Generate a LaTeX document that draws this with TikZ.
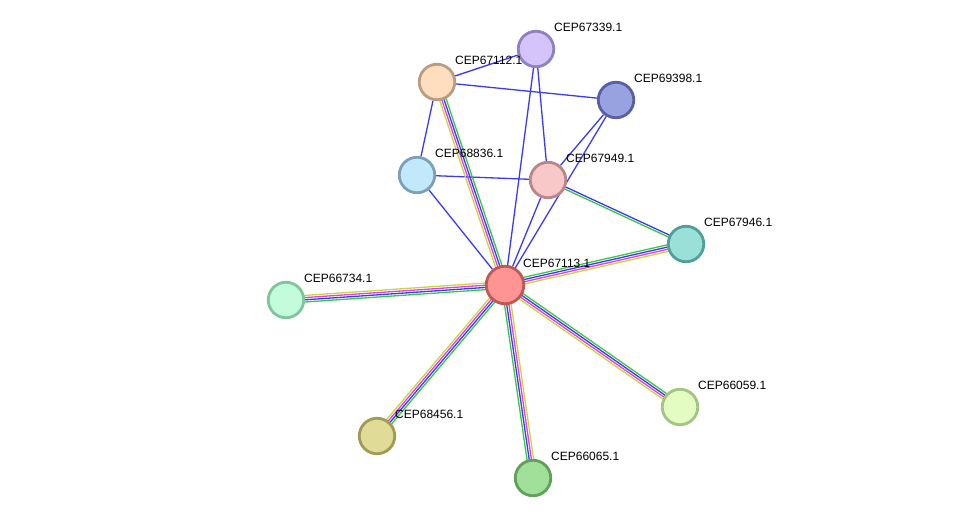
\documentclass[tikz,border=0pt]{standalone}
\usepackage{fontspec}
\setmainfont{Liberation Sans}
\usetikzlibrary{calc,backgrounds}
\definecolor{eblue}{HTML}{3A3AF2}
\definecolor{egreen}{HTML}{3CC83C}
\definecolor{emag}{HTML}{E040E0}
\definecolor{eyel}{HTML}{C4D83C}
\definecolor{f339}{HTML}{D4C4FA}\definecolor{d339}{HTML}{9080C4}
\definecolor{f112}{HTML}{FFDEC0}\definecolor{d112}{HTML}{BC9C80}
\definecolor{f398}{HTML}{98A2E0}\definecolor{d398}{HTML}{5660A2}
\definecolor{f836}{HTML}{C2E8FC}\definecolor{d836}{HTML}{7AA0BC}
\definecolor{f949}{HTML}{F8C8C8}\definecolor{d949}{HTML}{B88888}
\definecolor{f946}{HTML}{9AE0D8}\definecolor{d946}{HTML}{50A098}
\definecolor{f113}{HTML}{FF9494}\definecolor{d113}{HTML}{C05858}
\definecolor{f734}{HTML}{C2FCDA}\definecolor{d734}{HTML}{80C4A0}
\definecolor{f456}{HTML}{E0DC98}\definecolor{d456}{HTML}{A09C58}
\definecolor{f065}{HTML}{A0E098}\definecolor{d065}{HTML}{60A058}
\definecolor{f059}{HTML}{E2FCC2}\definecolor{d059}{HTML}{A4C484}
\tikzset{
  ew/.style={line width=1.3pt},
  prot/.style={circle, minimum size=35.5pt, inner sep=0pt, line width=2.8pt},
  lbl/.style={anchor=west, inner sep=0pt, font=\fontsize{12pt}{14pt}\selectfont, text=black}
}
\newcommand{\oline}[4]{% a b colour offset
  \draw[ew,#3] ($(#1)!#4!90:(#2)$) -- ($(#2)!#4!-90:(#1)$);}
\newcommand{\quadline}[6]{%
  \oline{#1}{#2}{#3}{3.3pt}\oline{#1}{#2}{#4}{1.1pt}\oline{#1}{#2}{#5}{-1.1pt}\oline{#1}{#2}{#6}{-3.3pt}}
\begin{document}
\begin{tikzpicture}[x=1pt,y=-1pt]
\useasboundingbox (0,0) rectangle (976,524);
% nodes
\node[prot, fill=f339, draw=d339] (n339) at (536,49) {};
\node[prot, fill=f112, draw=d112] (n112) at (437,82) {};
\node[prot, fill=f398, draw=d398] (n398) at (616,100) {};
\node[prot, fill=f836, draw=d836] (n836) at (417,175) {};
\node[prot, fill=f949, draw=d949] (n949) at (548,180) {};
\node[prot, fill=f946, draw=d946] (n946) at (686,244) {};
\node[prot, minimum size=37.5pt, fill=f113, draw=d113] (n113) at (505,285) {};
\node[prot, fill=f734, draw=d734] (n734) at (286,300) {};
\node[prot, fill=f456, draw=d456] (n456) at (377,436) {};
\node[prot, fill=f065, draw=d065] (n065) at (533,478) {};
\node[prot, fill=f059, draw=d059] (n059) at (680,407) {};
% labels
\node[lbl] (l339) at ($(n339.center)+(18,-21.5)$) {CEP67339.1};
\node[lbl] (l112) at ($(n112.center)+(18,-21.5)$) {CEP67112.1};
\node[lbl] (l398) at ($(n398.center)+(18,-21.5)$) {CEP69398.1};
\node[lbl] (l836) at ($(n836.center)+(18,-21.5)$) {CEP68836.1};
\node[lbl] (l949) at ($(n949.center)+(18,-21.5)$) {CEP67949.1};
\node[lbl] (l946) at ($(n946.center)+(18,-21.5)$) {CEP67946.1};
\node[lbl] (l113) at ($(n113.center)+(18,-21.5)$) {CEP67113.1};
\node[lbl] (l734) at ($(n734.center)+(18,-21.5)$) {CEP66734.1};
\node[lbl] (l456) at ($(n456.center)+(18,-21.5)$) {CEP68456.1};
\node[lbl] (l065) at ($(n065.center)+(18,-21.5)$) {CEP66065.1};
\node[lbl] (l059) at ($(n059.center)+(18,-21.5)$) {CEP66059.1};
\begin{pgfonlayer}{background}
% single blue edges
\draw[ew,eblue] (n112) -- (n339);
\draw[ew,eblue] (n112) -- (n398);
\draw[ew,eblue] (n112) -- (n836);
\draw[ew,eblue] (n339) -- (n113);
\draw[ew,eblue] (n339) -- (n949);
\draw[ew,eblue] (n398) -- (n949);
\draw[ew,eblue] (n398) -- (n113);
\draw[ew,eblue] (n836) -- (n949);
\draw[ew,eblue] (n836) -- (n113);
\draw[ew,eblue] (n949) -- (n113);
% two-line edge
\oline{n949}{n946}{eblue}{1.1pt}
\oline{n949}{n946}{egreen}{-1.1pt}
% four-line edges
\quadline{n113}{n112}{eyel}{emag}{eblue}{egreen}
\quadline{n113}{n734}{egreen}{eblue}{emag}{eyel}
\quadline{n113}{n946}{egreen}{eblue}{emag}{eyel}
\quadline{n113}{n456}{egreen}{eblue}{emag}{eyel}
\quadline{n113}{n065}{eyel}{emag}{eblue}{egreen}
\quadline{n113}{n059}{egreen}{eblue}{emag}{eyel}
\end{pgfonlayer}
\end{tikzpicture}
\end{document}
